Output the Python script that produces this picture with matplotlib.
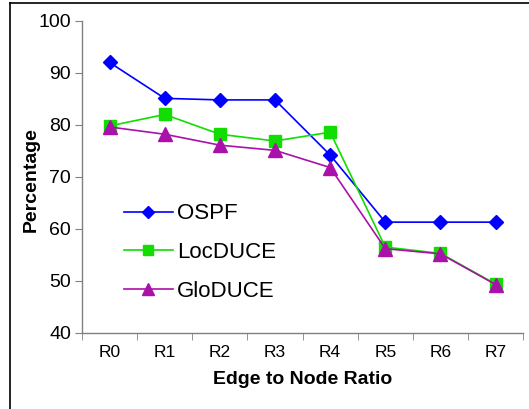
import matplotlib
matplotlib.use('Agg')
import matplotlib.pyplot as plt
from matplotlib.lines import Line2D

plt.rcParams['font.family'] = ['Liberation Sans', 'DejaVu Sans']

# データ
ratios = ['R0', 'R1', 'R2', 'R3', 'R4', 'R5', 'R6', 'R7']
ospf = [92.0, 85.1, 84.8, 84.8, 74.2, 61.3, 61.3, 61.3]
locduce = [79.8, 82.0, 78.2, 76.9, 78.6, 56.5, 55.3, 49.4]
gloduce = [79.6, 78.2, 76.1, 75.1, 71.8, 56.2, 55.2, 49.3]

fig = plt.figure(figsize=(5.29, 4.09), dpi=100)
ax = fig.add_axes([0.155, 0.186, 0.834, 0.763])

x = list(range(len(ratios)))
ax.plot(x, ospf, color='#0000ff', lw=1.2, marker='D', ms=7, label='OSPF')
ax.plot(x, locduce, color='#11dd00', lw=1.2, marker='s', ms=8.5, label='LocDUCE')
ax.plot(x, gloduce, color='#aa10aa', lw=1.2, marker='^', ms=9.5, label='GloDUCE')

ax.set_xlim(-0.5, len(ratios) - 0.5)
ax.set_ylim(40, 100)
ax.set_yticks(range(40, 101, 10))
ax.set_xticks(x)
ax.set_xticklabels(ratios)
ax.set_xticks([i - 0.5 for i in range(len(ratios) + 1)], minor=True)
ax.tick_params(axis='x', which='major', length=0, pad=9, labelsize=12.5)
ax.tick_params(axis='x', which='minor', length=5, color='#808080', direction='out')
ax.tick_params(axis='y', length=5, color='#808080', direction='out', labelsize=14, pad=3)

for s in ['top', 'right']:
    ax.spines[s].set_visible(False)
for s in ['left', 'bottom']:
    ax.spines[s].set_color('#808080')
    ax.spines[s].set_linewidth(1.0)

ax.set_xlabel('Edge to Node Ratio', fontsize=14, fontweight='bold')
ax.set_ylabel('Percentage', fontsize=14, fontweight='bold')
ax.xaxis.set_label_coords(0.5, -0.122)
ax.yaxis.set_label_coords(-0.095, 0.49)

ax.legend(loc='center left', bbox_to_anchor=(0.075, 0.257), frameon=False,
          borderaxespad=0, fontsize=16, handlelength=2.2, labelspacing=0.8,
          handletextpad=0.2, markerscale=0.85)

# 外枠
fig.add_artist(Line2D([10 / 529, 10 / 529], [0, 1 - 3 / 409], color='black', lw=1.2))
fig.add_artist(Line2D([10 / 529, 1], [1 - 3 / 409, 1 - 3 / 409], color='black', lw=1.2))

fig.savefig('out.png', dpi=100)
